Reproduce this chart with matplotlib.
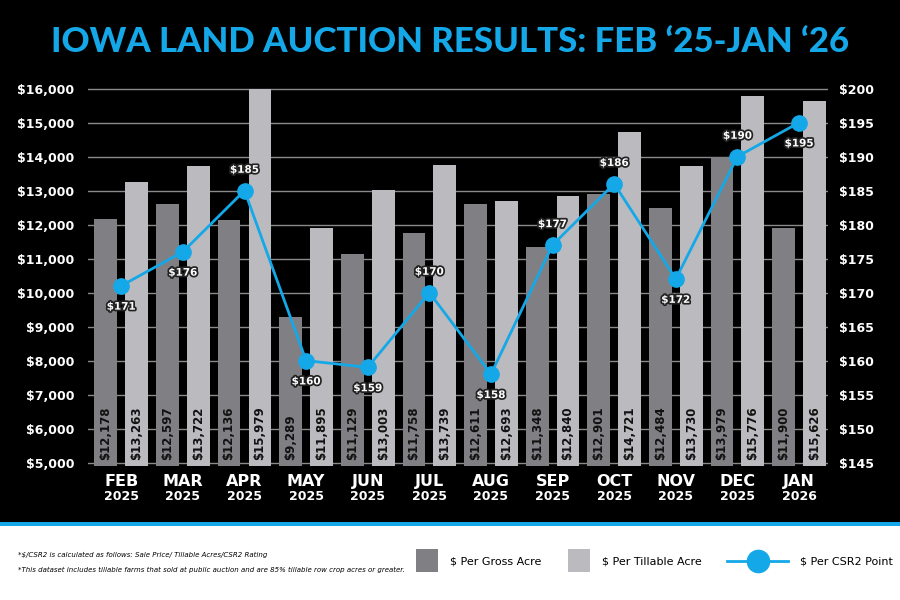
import matplotlib.pyplot as plt
import matplotlib.patheffects as pe
from matplotlib.patches import Rectangle
from matplotlib.lines import Line2D
import numpy as np

months = ["FEB", "MAR", "APR", "MAY", "JUN", "JUL", "AUG", "SEP", "OCT", "NOV", "DEC", "JAN"]
years = ["2025"] * 11 + ["2026"]
gross = [12178, 12597, 12136, 9289, 11129, 11758, 12611, 11348, 12901, 12484, 13979, 11900]
tillable = [13263, 13722, 15979, 11895, 13003, 13739, 12693, 12840, 14721, 13730, 15776, 15626]
csr2 = [171, 176, 185, 160, 159, 170, 158, 177, 186, 172, 190, 195]
label_below = [True, True, False, True, True, False, True, False, False, True, False, True]

BLUE = "#14a8e8"
GROSS_C = "#808084"
TILL_C = "#bbbbbf"

fig = plt.figure(figsize=(9, 6), dpi=100)
fig.patch.set_facecolor("white")

# black band + blue rule
fig.patches.append(Rectangle((0, 1 - 522 / 600), 1, 522 / 600, transform=fig.transFigure,
                             facecolor="black", zorder=-10))
fig.patches.append(Rectangle((0, 1 - 526 / 600), 1, 4 / 600, transform=fig.transFigure,
                             facecolor=BLUE, zorder=-9))

fig.text(0.5, 1 - 42 / 600, "IOWA LAND AUCTION RESULTS: FEB \u201825-JAN \u201826",
         ha="center", va="center", color=BLUE, fontsize=25, fontweight="black",
         family=["Lato", "DejaVu Sans"])

ax = fig.add_axes([88 / 900, 1 - 466 / 600, (828 - 88) / 900, (466 - 85.2) / 600])
ax.set_facecolor("none")
x = np.arange(len(months))
w = 0.37
off = 0.25
ymin = 4900
ax.set_ylim(ymin, 16100)
ax.set_xlim(-0.54, 11.47)

ax.bar(x - off, np.array(gross) - ymin, w, bottom=ymin, color=GROSS_C, zorder=2)
ax.bar(x + off, np.array(tillable) - ymin, w, bottom=ymin, color=TILL_C, zorder=2)

for i in range(len(months)):
    ax.text(x[i] - off, 5080, f"${gross[i]:,}", rotation=90, ha="center", va="bottom",
            fontsize=8.5, fontweight="bold", color="#111111", zorder=3)
    ax.text(x[i] + off, 5080, f"${tillable[i]:,}", rotation=90, ha="center", va="bottom",
            fontsize=8.5, fontweight="bold", color="#111111", zorder=3)

yt = np.arange(5000, 16001, 1000)
ax.set_yticks(yt)
ax.set_yticklabels([f"${v:,}" for v in yt])
ax.grid(axis="y", color="#8a8a8a", lw=1, zorder=0)
ax.set_xticks([])
for s in ax.spines.values():
    s.set_visible(False)
ax.tick_params(axis="y", colors="white", labelsize=9, length=0, pad=10)
for t in ax.get_yticklabels():
    t.set_fontweight("bold")

ax2 = ax.twinx()
ax2.set_ylim(145 + (ymin - 5000) / 200, 145 + (16100 - 5000) / 200)
rt = np.arange(145, 201, 5)
ax2.set_yticks(rt)
ax2.set_yticklabels([f"${v}" for v in rt])
for s in ax2.spines.values():
    s.set_visible(False)
ax2.tick_params(axis="y", colors="white", labelsize=9, length=0, pad=8)
for t in ax2.get_yticklabels():
    t.set_fontweight("bold")

ax2.plot(x, csr2, color=BLUE, lw=2, marker="o", markersize=11, zorder=5)
shadow = [pe.withSimplePatchShadow(offset=(0, 0), shadow_rgbFace="black", alpha=0.9),
          pe.Stroke(linewidth=2.5, foreground="#222222"), pe.Normal()]
for i, v in enumerate(csr2):
    dy = -15 if label_below[i] else 15
    ax2.annotate(f"${v}", (x[i], v), xytext=(0, dy), textcoords="offset points",
                 ha="center", va="center", fontsize=7.5, fontweight="bold", color="white",
                 path_effects=shadow, zorder=6)

for i in range(len(months)):
    ax.text(x[i], -0.04, months[i], transform=ax.get_xaxis_transform(), ha="center",
            va="center", color="white", fontsize=11.5, fontweight="bold")
    ax.text(x[i], -0.081, years[i], transform=ax.get_xaxis_transform(), ha="center",
            va="center", color="white", fontsize=9, fontweight="bold")

# footnotes
fig.text(18 / 900, 1 - 555 / 600, "*$/CSR2 is calculated as follows: Sale Price/ Tillable Acres/CSR2 Rating",
         fontsize=5, style="italic", va="center", color="black")
fig.text(18 / 900, 1 - 570 / 600,
         "*This dataset includes tillable farms that sold at public auction and are 85% tillable row crop acres or greater.",
         fontsize=5, style="italic", va="center", color="black")

# legend
fig.patches.append(Rectangle((416 / 900, 1 - 572 / 600), 22 / 900, 23 / 600,
                             transform=fig.transFigure, facecolor=GROSS_C))
fig.text(450 / 900, 1 - 561 / 600, "$ Per Gross Acre", fontsize=8, va="center", color="black")
fig.patches.append(Rectangle((568 / 900, 1 - 572 / 600), 22 / 900, 23 / 600,
                             transform=fig.transFigure, facecolor=TILL_C))
fig.text(602 / 900, 1 - 561 / 600, "$ Per Tillable Acre", fontsize=8, va="center", color="black")
fig.lines.append(Line2D([727 / 900, 788 / 900], [1 - 561 / 600, 1 - 561 / 600],
                        transform=fig.transFigure, color=BLUE, lw=2))
fig.lines.append(Line2D([758 / 900], [1 - 561 / 600], transform=fig.transFigure,
                        color=BLUE, marker="o", markersize=16))
fig.text(800 / 900, 1 - 561 / 600, "$ Per CSR2 Point", fontsize=8, va="center", color="black")

fig.savefig("out.png", dpi=100, facecolor=fig.get_facecolor())
